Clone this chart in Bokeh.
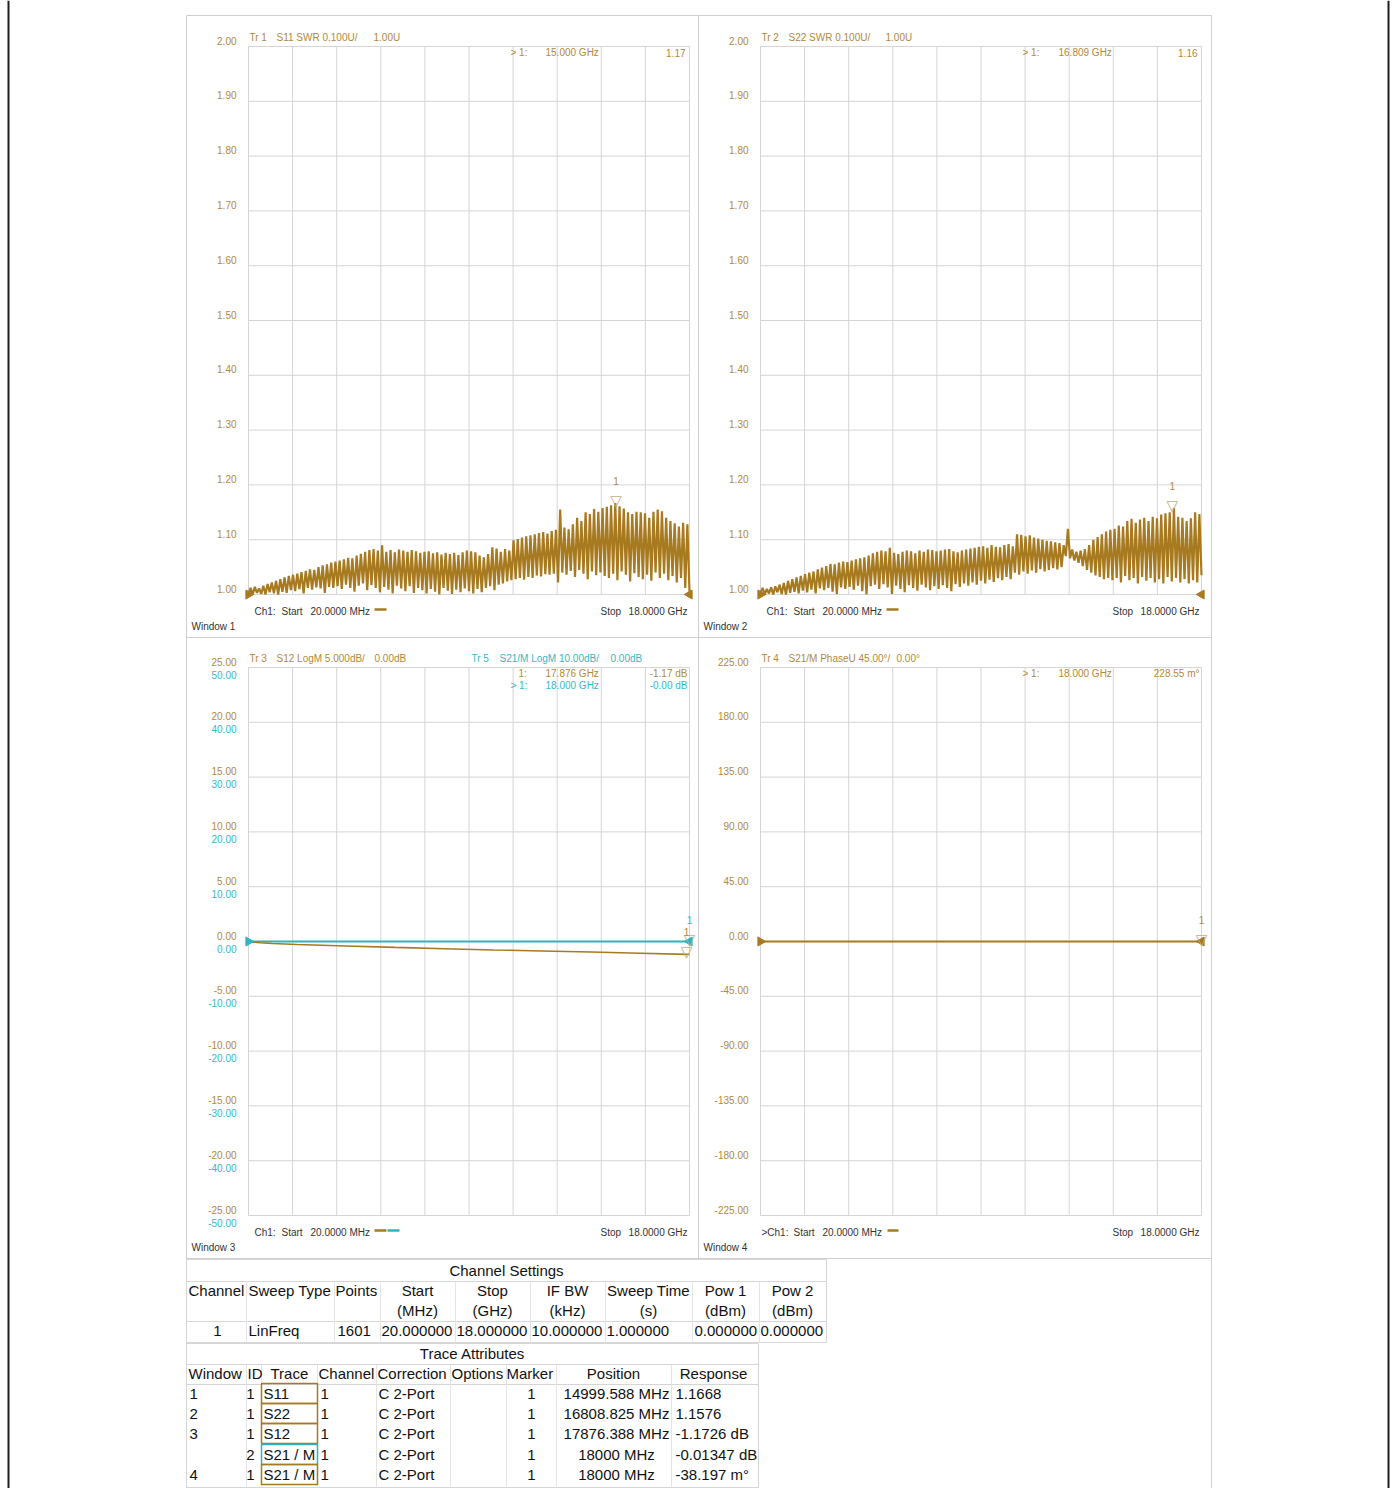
import numpy as np
from bokeh.plotting import figure
from bokeh.models import Range1d
from bokeh.core.properties import value
from bokeh.embed import file_html
from bokeh.resources import INLINE

# ---------------- channel 1 sweep ----------------
F_START, F_STOP = 0.02, 18.0      # GHz
N_DIV = 10

# ---------------- Tr 1 : S11 SWR, ripple extremes per cycle ----------------
s11_peaks = [
    1.012, 1.014, 1.011, 1.016, 1.019, 1.022, 1.025, 1.028, 1.031, 1.034,
    1.036, 1.038, 1.041, 1.043, 1.046, 1.045, 1.050, 1.053, 1.055, 1.058, 1.060,
    1.062, 1.064, 1.067, 1.066, 1.071, 1.074, 1.078, 1.081, 1.083, 1.080,
    1.090, 1.078, 1.081, 1.077, 1.082, 1.080, 1.078, 1.081, 1.079, 1.076, 1.078,
    1.079, 1.075, 1.077, 1.073, 1.076, 1.074, 1.076, 1.072, 1.077, 1.080,
    1.079, 1.077, 1.071, 1.068, 1.074, 1.086, 1.084, 1.078, 1.083, 1.080, 1.099,
    1.101, 1.104, 1.106, 1.108, 1.110, 1.112, 1.114, 1.111, 1.116, 1.118,
    1.155, 1.122, 1.119, 1.128, 1.140, 1.134, 1.150, 1.147, 1.156, 1.151, 1.158,
    1.160, 1.163, 1.1668, 1.161, 1.157, 1.150, 1.147, 1.151, 1.150, 1.148,
    1.140, 1.151, 1.155, 1.152, 1.140, 1.134, 1.130, 1.124, 1.131, 1.128,
]
s11_troughs = [
    1.002, 1.000, 1.003, 1.001, 1.000, 1.004, 1.002, 1.000, 1.005, 1.003,
    1.008, 1.006, 1.010, 1.002, 1.012, 1.009, 1.013, 1.011, 1.003, 1.014, 1.012,
    1.015, 1.010, 1.018, 1.012, 1.005, 1.016, 1.020, 1.008, 1.017, 1.012,
    1.004, 1.014, 1.009, 1.002, 1.016, 1.011, 1.006, 1.015, 1.003, 1.012, 1.008,
    1.002, 1.010, 1.005, 1.000, 1.012, 1.007, 1.001, 1.009, 1.004, 1.011,
    1.006, 1.002, 1.010, 1.004, 1.012, 1.015, 1.008, 1.018, 1.020, 1.024, 1.026,
    1.028, 1.030, 1.027, 1.032, 1.030, 1.035, 1.033, 1.037, 1.036, 1.038,
    1.022, 1.040, 1.036, 1.043, 1.032, 1.045, 1.038, 1.028, 1.042, 1.035, 1.040,
    1.034, 1.030, 1.038, 1.026, 1.042, 1.036, 1.024, 1.039, 1.032, 1.028,
    1.036, 1.025, 1.040, 1.030, 1.038, 1.026, 1.034, 1.022, 1.030, 1.012,
]
s11_end = 1.005

# ---------------- Tr 2 : S22 SWR ----------------
s22_peaks = [
    1.012, 1.010, 1.013, 1.015, 1.018, 1.021, 1.025, 1.028, 1.031, 1.034,
    1.037, 1.040, 1.042, 1.046, 1.049, 1.052, 1.056, 1.055, 1.058, 1.060, 1.059,
    1.062, 1.064, 1.066, 1.068, 1.071, 1.075, 1.078, 1.080, 1.079, 1.085,
    1.076, 1.074, 1.078, 1.080, 1.079, 1.075, 1.080, 1.078, 1.082, 1.081, 1.079,
    1.080, 1.082, 1.083, 1.079, 1.077, 1.080, 1.082, 1.084, 1.085, 1.087,
    1.088, 1.085, 1.090, 1.087, 1.086, 1.090, 1.092, 1.088, 1.110, 1.109, 1.106,
    1.108, 1.104, 1.102, 1.100, 1.098, 1.097, 1.095, 1.094, 1.090, 1.120,
    1.082, 1.078, 1.080, 1.083, 1.090, 1.100, 1.105, 1.110, 1.115, 1.118, 1.120,
    1.126, 1.124, 1.134, 1.138, 1.131, 1.137, 1.140, 1.134, 1.142, 1.139,
    1.146, 1.148, 1.150, 1.1576, 1.142, 1.140, 1.134, 1.139, 1.150, 1.147,
]
s22_troughs = [
    1.003, 1.000, 1.002, 1.000, 1.004, 1.001, 1.000, 1.003, 1.005, 1.002,
    1.007, 1.004, 1.009, 1.002, 1.011, 1.008, 1.012, 1.005, 1.001, 1.013, 1.010,
    1.014, 1.009, 1.016, 1.006, 1.000, 1.015, 1.018, 1.010, 1.019, 1.013,
    1.001, 1.016, 1.010, 1.004, 1.017, 1.012, 1.007, 1.018, 1.013, 1.008, 1.015,
    1.010, 1.017, 1.012, 1.006, 1.019, 1.014, 1.020, 1.016, 1.022, 1.018,
    1.025, 1.020, 1.027, 1.023, 1.030, 1.026, 1.032, 1.028, 1.040, 1.036, 1.042,
    1.038, 1.044, 1.040, 1.046, 1.042, 1.045, 1.048, 1.046, 1.050, 1.070,
    1.066, 1.062, 1.058, 1.052, 1.045, 1.040, 1.035, 1.032, 1.028, 1.030, 1.026,
    1.030, 1.022, 1.034, 1.026, 1.030, 1.020, 1.032, 1.025, 1.030, 1.022,
    1.028, 1.020, 1.032, 1.024, 1.030, 1.022, 1.028, 1.020, 1.026, 1.022,
]
s22_end = 1.035

# ---------------- Tr 3 : S12 LogM (dB) ----------------
s12_freq = [0.02, 0.5, 1.0, 2.0, 3.0, 4.0, 6.0, 8.0, 10.0, 12.0, 14.0, 16.0, 17.876, 18.0]
s12_db = [0.0, -0.12, -0.18, -0.27, -0.34, -0.41, -0.54, -0.66, -0.77, -0.87, -0.96, -1.07, -1.1726, -1.18]

# ---------------- Tr 5 : S21/M LogM (dB) ----------------
s21_freq = [0.02, 4.0, 8.0, 12.0, 16.0, 18.0]
s21_db = [0.0, -0.004, -0.007, -0.009, -0.012, -0.01347]

# ---------------- Tr 4 : S21/M PhaseU (deg) ----------------
ph_freq = [0.02, 6.0, 12.0, 18.0]
ph_deg = [0.0, -0.013, -0.025, -0.038197]

# ---------------- markers (freq GHz, response) ----------------
mk_s11 = (14.999588, 1.1668)
mk_s22 = (16.808825, 1.1576)
mk_s12 = (17.876388, -1.1726)
mk_s21 = (18.0, -0.01347)
mk_ph = (18.0, -0.038197)

# ---------------- graticule labels ----------------
swr_ticks = [1.00, 1.10, 1.20, 1.30, 1.40, 1.50, 1.60, 1.70, 1.80, 1.90, 2.00]
swr_labels = ["1.00", "1.10", "1.20", "1.30", "1.40", "1.50", "1.60", "1.70", "1.80", "1.90", "2.00"]
s12_ticks = [-25, -20, -15, -10, -5, 0, 5, 10, 15, 20, 25]
s12_labels = ["-25.00", "-20.00", "-15.00", "-10.00", "-5.00", "0.00", "5.00", "10.00", "15.00", "20.00", "25.00"]
s21_ticks = [-50, -40, -30, -20, -10, 0, 10, 20, 30, 40, 50]
s21_labels = ["-50.00", "-40.00", "-30.00", "-20.00", "-10.00", "0.00", "10.00", "20.00", "30.00", "40.00", "50.00"]
ph_ticks = [-225, -180, -135, -90, -45, 0, 45, 90, 135, 180, 225]
ph_labels = ["-225.00", "-180.00", "-135.00", "-90.00", "-45.00", "0.00", "45.00", "90.00", "135.00", "180.00", "225.00"]

# ---------------- tables ----------------
ch_head1 = ["Channel", "Sweep Type", "Points", "Start", "Stop", "IF BW", "Sweep Time", "Pow 1", "Pow 2"]
ch_head2 = ["", "", "", "(MHz)", "(GHz)", "(kHz)", "(s)", "(dBm)", "(dBm)"]
ch_row = ["1", "LinFreq", "1601", "20.000000", "18.000000", "10.000000", "1.000000", "0.000000", "0.000000"]

tr_head = ["Window", "ID", "Trace", "Channel", "Correction", "Options", "Marker", "Position", "Response"]
tr_window = ["1", "2", "3", "", "4"]
tr_id = ["1", "1", "1", "2", "1"]
tr_trace = ["S11", "S22", "S12", "S21 / M", "S21 / M"]
tr_channel = ["1", "1", "1", "1", "1"]
tr_corr = ["C 2-Port", "C 2-Port", "C 2-Port", "C 2-Port", "C 2-Port"]
tr_marker = ["1", "1", "1", "1", "1"]
tr_pos = ["14999.588 MHz", "16808.825 MHz", "17876.388 MHz", "18000 MHz", "18000 MHz"]
tr_resp = ["1.1668", "1.1576", "-1.1726 dB", "-0.01347 dB", "-38.197 m°"]

# ---------------- styling ----------------
BROWN = "#a77a1f"
BROWN_TXT = "#b1893a"
CYAN = "#2db4c0"
CYAN_TXT = "#37b7c3"
GRID = "#d5d5d5"
FRAME = "#cfcfcf"
INK = "#333333"
MK = "#bfae88"
FONT = value("Liberation Sans")
SYM = value("DejaVu Sans")

W, H = 1394, 1488
p = figure(width=W, height=H, x_range=Range1d(0, W), y_range=Range1d(H, 0),
           output_backend="svg", toolbar_location=None, min_border=0,
           x_axis_location=None, y_axis_location=None,
           outline_line_color=None, background_fill_color="white",
           border_fill_color="white")
p.grid.visible = False

WIN = {
    1: dict(box=(186, 15, 698, 637), frame=(248, 46, 689, 594)),
    2: dict(box=(698, 15, 1211, 637), frame=(760, 46, 1201, 594)),
    3: dict(box=(186, 637, 698, 1258), frame=(248, 667, 689, 1215)),
    4: dict(box=(698, 637, 1211, 1258), frame=(760, 667, 1201, 1215)),
}


def txt(xs, ys, texts, align="left", color=INK, size="10px", font=FONT, baseline="middle"):
    p.text(x=xs, y=ys, text=texts, text_align=align, text_baseline=baseline,
           text_color=color, text_font_size=size, text_font=font)


def axes(win, lo, hi):
    x0, y0, x1, y1 = WIN[win]["frame"]
    return p.subplot(x_source=Range1d(F_START, F_STOP), y_source=Range1d(lo, hi),
                     x_target=Range1d(x0, x1), y_target=Range1d(y1, y0))


def graticule(ax, lo, hi, ticks):
    xs = np.linspace(F_START, F_STOP, N_DIV + 1)
    ax.segment(x0=xs, y0=lo, x1=xs, y1=hi, line_color=GRID, line_width=1)
    ax.segment(x0=F_START, y0=ticks, x1=F_STOP, y1=ticks, line_color=GRID, line_width=1)


def tick_text(ax, ticks, labels, color, dy):
    ax.text(x=F_START, y=ticks, text=labels, x_offset=-12, y_offset=dy,
            text_align="right", text_baseline="middle", text_color=color,
            text_font_size="10px", text_font=FONT)


def ref_arrows(ax, ref, color):
    ax.scatter(x=[F_START], y=[ref], marker="triangle", angle=-np.pi / 2, size=9,
               fill_color=color, line_color=color)
    ax.scatter(x=[F_STOP], y=[ref], marker="triangle", angle=np.pi / 2, size=9,
               fill_color=color, line_color=color)


def marker(ax, mk, color):
    ax.text(x=[mk[0]], y=[mk[1]], text=["\u25bd"], text_align="center",
            text_baseline="alphabetic", y_offset=-2, text_color=MK,
            text_font_size="15px", text_font=SYM)
    ax.text(x=[mk[0]], y=[mk[1]], text=["1"], text_align="center",
            text_baseline="middle", y_offset=-22, text_color=color,
            text_font_size="10px", text_font=FONT)


def zigzag(troughs, peaks, end):
    ys = []
    for t, pk in zip(troughs, peaks):
        ys += [t, pk]
    ys.append(end)
    return np.linspace(F_START, F_STOP, len(ys)), np.array(ys)


# ---------------- outer page rules and window boxes ----------------
p.segment(x0=[8, 1388], y0=[0, 0], x1=[8, 1388], y1=[H, H], line_color="#1e1e1e", line_width=2)
p.quad(left=[186], right=[1211], top=[15], bottom=[1488], fill_color=None, line_color=FRAME, line_width=1)
p.segment(x0=[698, 186], y0=[15, 637], x1=[698, 1211], y1=[1258, 637], line_color=FRAME, line_width=1)
p.segment(x0=[186], y0=[1258], x1=[1211], y1=[1258], line_color=FRAME, line_width=1)

# ---------------- Window 1 : S11 SWR ----------------
a1 = axes(1, 1.0, 2.0)
graticule(a1, 1.0, 2.0, swr_ticks)
tick_text(a1, swr_ticks, swr_labels, BROWN_TXT, -6)
x, y = zigzag(s11_troughs, s11_peaks, s11_end)
a1.line(x, y, line_color=BROWN, line_width=2.2)
ref_arrows(a1, 1.0, BROWN)
marker(a1, mk_s11, BROWN_TXT)

# ---------------- Window 2 : S22 SWR ----------------
a2 = axes(2, 1.0, 2.0)
graticule(a2, 1.0, 2.0, swr_ticks)
tick_text(a2, swr_ticks, swr_labels, BROWN_TXT, -6)
x, y = zigzag(s22_troughs, s22_peaks, s22_end)
a2.line(x, y, line_color=BROWN, line_width=2.2)
ref_arrows(a2, 1.0, BROWN)
marker(a2, mk_s22, BROWN_TXT)

# ---------------- Window 3 : S12 / S21 LogM ----------------
a3 = axes(3, -25, 25)
a3b = axes(3, -50, 50)
graticule(a3, -25, 25, s12_ticks)
tick_text(a3, s12_ticks, s12_labels, BROWN_TXT, -6)
tick_text(a3b, s21_ticks, s21_labels, CYAN_TXT, 7)
a3b.line(s21_freq, s21_db, line_color=CYAN, line_width=2)
a3.line(s12_freq, s12_db, line_color=BROWN, line_width=1.6)
ref_arrows(a3b, 0.0, CYAN)
marker(a3b, mk_s21, CYAN_TXT)
marker(a3, mk_s12, BROWN_TXT)

# ---------------- Window 4 : S21 phase ----------------
a4 = axes(4, -225, 225)
graticule(a4, -225, 225, ph_ticks)
tick_text(a4, ph_ticks, ph_labels, BROWN_TXT, -6)
a4.line(ph_freq, ph_deg, line_color=BROWN, line_width=2)
ref_arrows(a4, 0.0, BROWN)
marker(a4, mk_ph, BROWN_TXT)

# ---------------- trace headers and marker read-outs ----------------
txt([249, 761, 249, 761], [37, 37, 658, 658], ["Tr 1", "Tr 2", "Tr 3", "Tr 4"], color=BROWN_TXT)
txt([276, 788], [37, 37], ["S11 SWR 0.100U/", "S22 SWR 0.100U/"], color=BROWN_TXT)
txt([373, 885], [37, 37], ["1.00U", "1.00U"], color=BROWN_TXT)
txt([276], [658], ["S12 LogM 5.000dB/"], color=BROWN_TXT)
txt([374], [658], ["0.00dB"], color=BROWN_TXT)
txt([788], [658], ["S21/M PhaseU 45.00\u00b0/"], color=BROWN_TXT)
txt([896], [658], ["0.00\u00b0"], color=BROWN_TXT)
txt([471], [658], ["Tr 5"], color=CYAN_TXT)
txt([499], [658], ["S21/M LogM 10.00dB/"], color=CYAN_TXT)
txt([610], [658], ["0.00dB"], color=CYAN_TXT)

txt([510, 1022, 1022], [52, 52, 673], ["> 1:", "> 1:", "> 1:"], color=BROWN_TXT)
txt([545, 1058, 1058], [52, 52, 673], ["15.000  GHz", "16.809  GHz", "18.000  GHz"], color=BROWN_TXT)
txt([685, 1197, 1199], [52, 52, 673], ["1.17", "1.16", "228.55 m\u00b0"], align="right", color=BROWN_TXT)
txt([518], [673], ["1:"], color=BROWN_TXT)
txt([545], [673], ["17.876  GHz"], color=BROWN_TXT)
txt([687], [673], ["-1.17 dB"], align="right", color=BROWN_TXT)
txt([510], [685], ["> 1:"], color=CYAN_TXT)
txt([545], [685], ["18.000  GHz"], color=CYAN_TXT)
txt([687], [685], ["-0.00 dB"], align="right", color=CYAN_TXT)

# ---------------- sweep annotation under each window ----------------
txt([254, 766, 254], [611, 611, 1232], ["Ch1:", "Ch1:", "Ch1:"])
txt([761], [1232], [">Ch1:"])
txt([281, 793, 281, 793], [611, 611, 1232, 1232], ["Start"] * 4)
txt([310, 822, 310, 822], [611, 611, 1232, 1232], ["20.0000 MHz"] * 4)
txt([600, 1112, 600, 1112], [611, 611, 1232, 1232], ["Stop"] * 4)
txt([687, 1199, 687, 1199], [611, 611, 1232, 1232], ["18.0000 GHz"] * 4, align="right")
txt([191, 703, 191, 703], [626, 626, 1247, 1247], ["Window 1", "Window 2", "Window 3", "Window 4"])
p.segment(x0=[374, 886, 374, 887], y0=[609, 609, 1230, 1230], x1=[386, 898, 386, 898],
          y1=[609, 609, 1230, 1230], line_color=BROWN, line_width=2.5)
p.segment(x0=[387], y0=[1230], x1=[399], y1=[1230], line_color=CYAN, line_width=2.5)

# ---------------- Channel Settings table ----------------
TSZ = "15px"
TINK = "#111111"
LINE = "#d6d6d6"
p.quad(left=[186], right=[826], top=[1259], bottom=[1342], fill_color=None, line_color=LINE)
p.segment(x0=[186, 186], y0=[1281, 1321], x1=[826, 826], y1=[1281, 1321], line_color=LINE)
ch_cols = [246, 334, 380, 455, 530, 605, 692, 759]
p.segment(x0=ch_cols, y0=1281, x1=ch_cols, y1=1342, line_color="#e4e4e4")
txt([506], [1270], ["Channel Settings"], align="center", color=TINK, size=TSZ)
txt([188, 248, 335], [1290] * 3, ch_head1[:3], color=TINK, size=TSZ)
ch_centers = [417, 492, 567, 648, 725, 792]
txt(ch_centers, [1290] * 6, ch_head1[3:], align="center", color=TINK, size=TSZ)
txt(ch_centers, [1310] * 6, ch_head2[3:], align="center", color=TINK, size=TSZ)
txt([217], [1330], ch_row[:1], align="center", color=TINK, size=TSZ)
txt([248, 337, 381, 456, 531, 606, 694, 760], [1330] * 8, ch_row[1:], color=TINK, size=TSZ)

# ---------------- Trace Attributes table ----------------
p.quad(left=[186], right=[758], top=[1343], bottom=[1487], fill_color=None, line_color=LINE)
p.segment(x0=[186, 186], y0=[1364, 1384], x1=[758, 758], y1=[1364, 1384], line_color=LINE)
tr_cols = [246, 261, 317, 376, 450, 506, 556, 671]
p.segment(x0=tr_cols, y0=1364, x1=tr_cols, y1=1487, line_color="#e4e4e4")
txt([472], [1353], ["Trace Attributes"], align="center", color=TINK, size=TSZ)
txt([188, 247, 270, 318, 377, 451, 506], [1373] * 7, tr_head[:7], color=TINK, size=TSZ)
txt([613, 713], [1373] * 2, tr_head[7:], align="center", color=TINK, size=TSZ)
rows = [1393, 1413, 1433, 1454, 1474]
txt([189] * 5, rows, tr_window, color=TINK, size=TSZ)
txt([254] * 5, rows, tr_id, align="right", color=TINK, size=TSZ)
txt([263] * 5, rows, tr_trace, color=TINK, size=TSZ)
txt([320] * 5, rows, tr_channel, color=TINK, size=TSZ)
txt([378] * 5, rows, tr_corr, color=TINK, size=TSZ)
txt([531] * 5, rows, tr_marker, align="center", color=TINK, size=TSZ)
txt([616] * 5, rows, tr_pos, align="center", color=TINK, size=TSZ)
txt([675] * 5, rows, tr_resp, color=TINK, size=TSZ)
box_colors = [BROWN, BROWN, BROWN, CYAN, BROWN]
p.quad(left=261, right=317, top=[r - 10 for r in rows], bottom=[r + 10 for r in rows],
       fill_color=None, line_color=box_colors, line_width=1.5)

open("out.html", "w").write(file_html(p, INLINE))
